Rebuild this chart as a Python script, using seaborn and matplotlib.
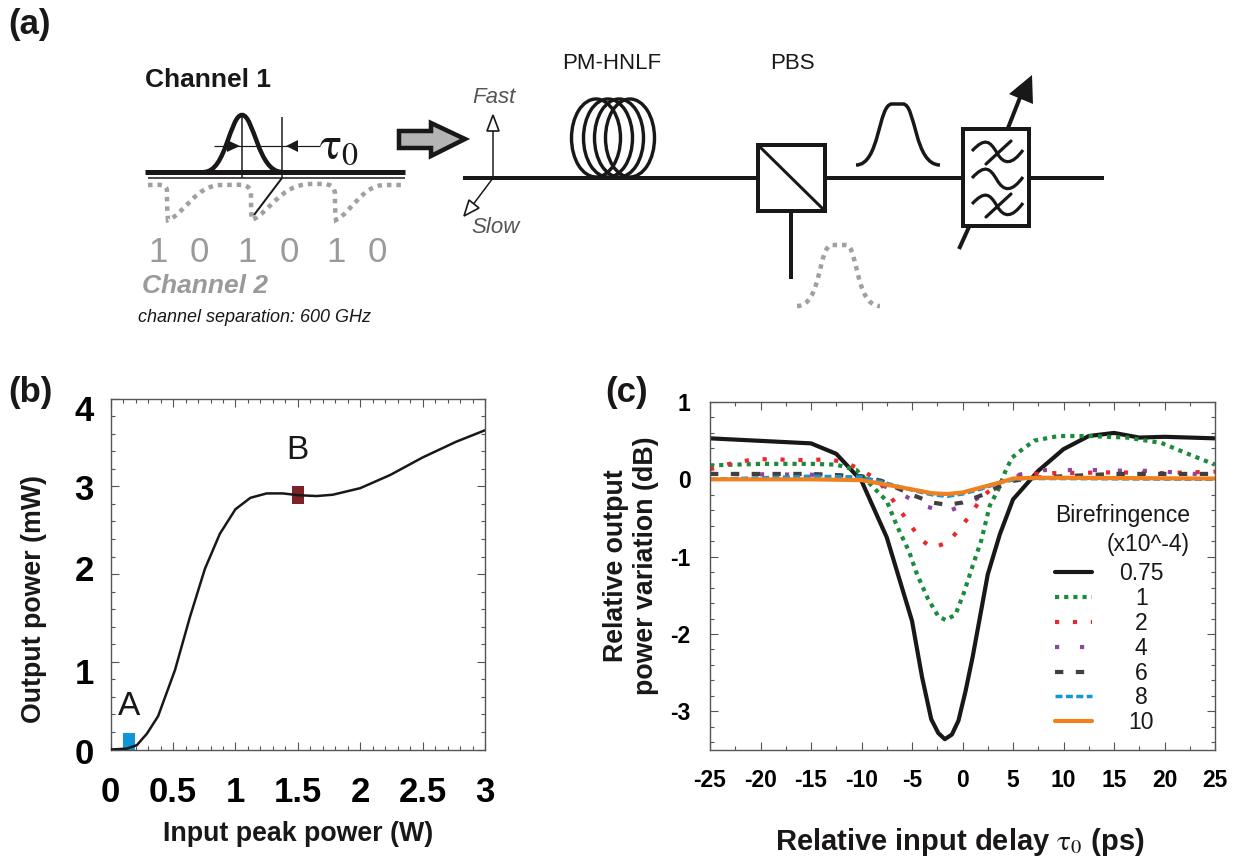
import matplotlib
matplotlib.use("Agg")
import matplotlib.pyplot as plt
import seaborn as sns
from matplotlib.path import Path
from matplotlib.patches import PathPatch, Rectangle, Ellipse, Polygon
from matplotlib.ticker import MultipleLocator
from matplotlib.transforms import Affine2D

# ---------- data ----------
power_in = [0, .13, .21, .29, .38, .515, .635, .755, .875, 1.0, 1.12, 1.25, 1.38, 1.5, 1.65, 1.78, 2.0, 2.24, 2.5, 2.77, 3.0]
power_out = [0, .01, .05, .18, .38, .905, 1.51, 2.06, 2.46, 2.74, 2.87, 2.92, 2.92, 2.90, 2.89, 2.905, 2.98, 3.13, 3.33, 3.51, 3.64]
mark_x = [0.15, 1.5]
mark_y = [0.08, 2.9]
mark_colors = ["#0f95d8", "#7d2226"]
mark_labels = ["A", "B"]

b075_x = [-25, -15, -12.5, -10, -7.5, -5, -4, -3.1, -2.4, -1.75, -1.05, -.4, .3, 1, 1.66, 2.5, 3.7, 5, 7.5, 10, 12.5, 15, 17.5, 20, 25]
b075_y = [.53, .465, .33, -.02, -.75, -1.83, -2.56, -3.1, -3.28, -3.36, -3.3, -3.12, -2.74, -2.3, -1.83, -1.23, -.71, -.26, .11, .39, .56, .6, .54, .55, .53]
b1_x = [-25, -20, -15, -12.5, -10.5, -8.7, -7.5, -6.5, -5.3, -4.5, -3.4, -2.4, -1.67, -.7, .13, 1, 1.84, 2.7, 3.55, 4.2, 4.9, 5.75, 7.1, 9.5, 12.5, 16.3, 19.7, 22.5, 25]
b1_y = [.18, .2, .2, .19, .12, -.12, -.28, -.6, -.93, -1.23, -1.55, -1.77, -1.82, -1.75, -1.47, -1.12, -.8, -.34, -.13, .09, .28, .37, .5, .56, .56, .54, .47, .32, .19]
b2_x = [-25, -22.5, -20.5, -18.7, -16.8, -15, -13.3, -11.6, -10, -8.4, -7.3, -6.3, -5.2, -4.2, -3, -1.4, -.1, 1, 1.9, 3.2, 4.5, 7, 9, 15, 20, 25]
b2_y = [.13, .22, .26, .26, .25, .25, .26, .22, .12, -.01, -.19, -.38, -.58, -.77, -.89, -.81, -.61, -.42, -.23, -.09, .02, .07, .08, .09, .08, .1]
b4_x = [-25, -15, -10, -6.3, -4, -1.5, 1, 3.5, 5.6, 8.1, 10.9, 13.4, 16.1, 18.9, 22, 25]
b4_y = [.07, .06, .04, -.17, -.34, -.42, -.28, -.1, .06, .12, .12, .12, .11, .11, .08, .05]
b6_x = [-25, -20, -15, -10, -8, -5, -3, -1.5, 0, 2, 3.5, 5, 7, 10, 15, 20, 25]
b6_y = [.07, .07, .07, .04, -.02, -.2, -.3, -.33, -.3, -.2, -.1, -.02, .02, .04, .07, .07, .07]
b8_x = [-25, -15, -10, -7.5, -5, -3, -1.5, 0, 2, 4, 6, 10, 25]
b8_y = [0, .04, .03, -.05, -.14, -.2, -.22, -.19, -.12, -.03, .01, .01, 0]
b10_x = [-25, -15, -10, -7.5, -5, -3, -1.5, 0, 2, 4, 5, 7, 10, 25]
b10_y = [0, 0, -.01, -.07, -.13, -.18, -.19, -.17, -.1, -.03, .01, .02, .02, .01]
series_labels = ["0.75", "1", "2", "4", "6", "8", "10"]
series_colors = ["#1a1717", "#1a8a3c", "#e8282c", "#8e44a0", "#404040", "#1296d8", "#f0811e"]
series_styles = ["-", (0, (1, 1.2)), (0, (1, 3.3)), (0, (1, 5)), (0, (2, 3)), (0, (2, 1)), "-"]

xticks_b = [0, .5, 1, 1.5, 2, 2.5, 3]
xticklabels_b = ["0", "0.5", "1", "1.5", "2", "2.5", "3"]
yticks_b = [0, 1, 2, 3, 4]
xticks_c = list(range(-25, 26, 5))
yticks_c = [-3, -2, -1, 0, 1]
bits = ["1", "0", "1", "0", "1", "0"]

# ---------- figure ----------
sns.set_theme(style="ticks")
plt.rcParams["font.family"] = ["Liberation Sans", "DejaVu Sans"]
plt.rcParams["mathtext.fontset"] = "stix"
plt.rcParams["axes.unicode_minus"] = False
W, H = 1239, 856
fig = plt.figure(figsize=(W / 100, H / 100), dpi=100)
ink = "#1a1717"
px = 0.72


def axes_px(l, t, r, b):
    return fig.add_axes([l / W, 1 - b / H, (r - l) / W, (b - t) / H])


sk = fig.add_axes([0, 0, 1, 1])
sk.set_xlim(0, W)
sk.set_ylim(H, 0)
sk.axis("off")


def line(xs, ys, w=4, c=ink, **k):
    k.setdefault("solid_capstyle", "butt")
    sk.plot(xs, ys, color=c, lw=w * px, **k)


def curve(verts, w=4, c=ink, **k):
    codes = [Path.MOVETO] + [Path.CURVE4] * (len(verts) - 1)
    sk.add_patch(PathPatch(Path(verts, codes), fill=False, ec=c, lw=w * px, capstyle="butt", **k))


def txt(x, y, s, size, **k):
    k.setdefault("ha", "center")
    k.setdefault("va", "center")
    k.setdefault("color", ink)
    sk.text(x, y, s, fontsize=size, **k)


for x, y, s in [(30, 24, "(a)"), (30, 392, "(b)"), (627, 392, "(c)")]:
    txt(x, y, s, 25, fontweight="bold")

# channel panel
txt(208, 80, "Channel 1", 19, fontweight="bold")
line([145, 405], [172, 172], 5)
line([148, 405], [178, 178], 1.5)
curve([(204, 172), (226, 172), (230, 115), (242, 115), (254, 115), (258, 172), (282, 172)], 4.5)
line([242, 242], [115, 178], 1.5)
line([282, 282], [117, 178], 1.5)
line([214, 320], [146, 146], 1.2)
sk.add_patch(Polygon([(240, 146), (227, 140), (227, 152)], fc=ink, ec="none", zorder=3))
sk.add_patch(Polygon([(286, 146), (298, 140), (298, 152)], fc=ink, ec="none", zorder=3))
txt(339, 147, "$\\mathrm{\\tau}_{0}$", 33)
line([282, 254], [178, 215], 2)

grey = "#a0a0a0"
dots = dict(ls=(0, (1, 1.1)))
curve([(148, 185), (160, 185), (167, 183), (167, 192), (167, 200), (167, 210), (168, 220),
       (185, 214), (195, 185), (222, 185), (240, 185), (251, 182), (251, 195),
       (251, 205), (251, 212), (252, 220), (270, 212), (280, 185), (310, 184),
       (325, 184), (335, 182), (335, 195), (335, 205), (335, 212), (336, 220),
       (352, 212), (362, 185), (385, 185), (392, 185), (398, 185), (404, 185)],
      4.5, grey, **dots)
for x, s in zip([158, 199, 247, 289, 336, 377], bits):
    txt(x, 252, s, 25, color="#9a9a9a")
txt(205, 286, "Channel 2", 19, fontweight="bold", fontstyle="italic", color="#9a9a9a")
txt(255, 317, "channel separation: 600 GHz", 13, fontstyle="italic")

# block arrow
sk.add_patch(Polygon([(399, 131), (431, 131), (431, 123), (465, 139), (431, 156), (431, 148), (399, 148)],
                     fc="#b4b4b4", ec=ink, lw=4.5 * px, joinstyle="miter"))

# main line and polarisation axes
line([463, 1104], [178, 178], 4)
txt(494, 97, "Fast", 16, fontstyle="italic", color="#555555")
txt(496, 227, "Slow", 16, fontstyle="italic", color="#555555")
line([493, 493], [178, 130], 1.5)
sk.add_patch(Polygon([(493, 115), (487, 131), (499, 131)], fc="white", ec=ink, lw=1.2, zorder=3))
line([493, 472], [178, 206], 1.5)
sk.add_patch(Polygon([(464, 216), (469, 200), (479, 208)], fc="white", ec=ink, lw=1.2, zorder=3))

# fibre coil
for cx in [596, 608, 619, 630]:
    sk.add_patch(Ellipse((cx, 138), 49, 78, fill=False, ec=ink, lw=3.4 * px))
txt(612, 63, "PM-HNLF", 16)
txt(792, 63, "PBS", 16)

# PBS
sk.add_patch(Rectangle((758, 145), 67, 66, fc="white", ec=ink, lw=4 * px, zorder=3))
sk.plot([760, 823], [147, 209], color=ink, lw=3 * px, zorder=4)
line([791, 791], [211, 279], 4)

# output pulses
curve([(856, 165), (880, 165), (878, 104), (892, 104), (896, 104), (899, 104), (903, 104),
       (916, 104), (914, 165), (940, 165)], 3.5)
curve([(797, 306), (822, 306), (818, 245), (832, 245), (836, 245), (842, 245), (846, 245),
       (858, 245), (855, 306), (880, 306)], 4.5, "#a0a0a0", ls=(0, (1, 1.1)))

# tunable filter
sk.add_patch(Rectangle((963, 129), 66, 97, fc="white", ec=ink, lw=4 * px, zorder=3))
line([959, 969], [249, 227], 4)
line([1008, 1021], [128, 95], 4)
sk.add_patch(Polygon([(1032, 75), (1009, 94), (1033, 104)], fc=ink, ec="none"))
line([1029, 1104], [178, 178], 4)
for yc, cut in [(153, True), (180, False), (206, True)]:
    sk.add_patch(PathPatch(Path([(972, yc - 2), (985, yc - 16), (990, yc - 12), (997, yc),
                                 (1004, yc + 12), (1012, yc + 12), (1023, yc - 3)],
                                [Path.MOVETO] + [Path.CURVE4] * 6),
                           fill=False, ec=ink, lw=3.2 * px, zorder=4))
    if cut:
        sk.plot([986, 1011], [yc + 11, yc - 12], color=ink, lw=3.2 * px, zorder=4)


def style_axes(ax, xmaj, xmin, ymaj, ymin):
    for s in ax.spines.values():
        s.set_linewidth(1.0)
        s.set_color("#555555")
    ax.xaxis.set_major_locator(MultipleLocator(xmaj))
    ax.xaxis.set_minor_locator(MultipleLocator(xmin))
    ax.yaxis.set_major_locator(MultipleLocator(ymaj))
    ax.yaxis.set_minor_locator(MultipleLocator(ymin))
    ax.tick_params(which="major", direction="in", top=True, right=True, length=6, width=.8, color="#555555")
    ax.tick_params(which="minor", direction="in", top=True, right=True, length=3, width=.8, color="#555555")
    ax.set_facecolor("none")


# ---------- panel b ----------
axb = axes_px(110.7, 398.7, 485, 749.5)
sns.lineplot(x=power_in, y=power_out, ax=axb, color=ink, lw=1.8, errorbar=None)
axb.set_xlim(0, 3)
axb.set_ylim(0, 4)
style_axes(axb, .5, .1, 1, .2)
axb.set_xticks(xticks_b, xticklabels_b)
axb.set_yticks(yticks_b)
axb.tick_params(axis="both", which="major", labelsize=25)
axb.tick_params(axis="x", which="major", pad=19)
axb.tick_params(axis="y", which="major", pad=12)
for t in axb.get_xticklabels() + axb.get_yticklabels():
    t.set_fontweight("bold")
    t.set_color("black")
# the y tick labels sit a little off their ticks in the reference
for t, dy in zip(axb.get_yticklabels(), [2, 9, -6, 1, 9]):
    t.set_transform(t.get_transform() + Affine2D().translate(0, -dy))
axb.set_xlabel("Input peak power (W)", fontsize=19.3, fontweight="bold", color=ink)
axb.set_ylabel("Output power (mW)", fontsize=19.3, fontweight="bold", color=ink)
axb.xaxis.set_label_coords(.5, -.204)
axb.yaxis.set_label_coords(-.17, .429)
rect = Path([(-.58, -1), (.58, -1), (.58, 1), (-.58, 1), (-.58, -1)], closed=True)
for x, y, c, s, off in zip(mark_x, mark_y, mark_colors, mark_labels, [26, 32]):
    axb.scatter([x], [y], marker=rect, s=187, color=c, linewidths=0, clip_on=False, zorder=1)
    axb.annotate(s, (x, y), xytext=(0, off), textcoords="offset points", ha="center", va="center",
                 fontsize=24, color=ink)
axb.lines[0].set_zorder(3)

# ---------- panel c ----------
axc = axes_px(710, 402, 1215, 750)
series = [(b075_x, b075_y, 3.0), (b1_x, b1_y, 3.0), (b2_x, b2_y, 3.0), (b4_x, b4_y, 3.0),
          (b6_x, b6_y, 3.0), (b8_x, b8_y, 2.5), (b10_x, b10_y, 3.0)]
for (xs, ys, lw), lab, col, st in zip(series, series_labels, series_colors, series_styles):
    sns.lineplot(x=xs, y=ys, ax=axc, color=col, lw=lw, linestyle=st, label=lab, errorbar=None)
axc.set_xlim(-25, 25)
axc.set_ylim(-3.5, 1)
style_axes(axc, 5, 2.5, 1, .2)
axc.set_xticks(xticks_c)
axc.set_yticks(yticks_c)
axc.tick_params(axis="both", which="major", labelsize=16.5, labelcolor="black")
axc.tick_params(axis="x", which="major", pad=14)
axc.tick_params(axis="y", which="major", pad=14)
for t in axc.get_xticklabels() + axc.get_yticklabels():
    t.set_fontweight("bold")
axc.set_xlabel("Relative input delay $\\mathrm{\\tau}_{0}$ (ps)", fontsize=21, fontweight="bold", color=ink)
axc.set_ylabel("Relative output\npower variation (dB)", fontsize=19.3, fontweight="bold", color=ink)
axc.xaxis.set_label_coords(.495, -.218)
axc.yaxis.set_label_coords(-.101, .529)

leg = axc.legend(loc="upper left", bbox_to_anchor=(1055 / W, 1 - 504 / H), bbox_transform=fig.transFigure,
                 frameon=False, fontsize=16.5, title="Birefringence\n(x10^-4)", title_fontsize=16.5,
                 alignment="left", borderpad=0, borderaxespad=0, handlelength=1.62, handletextpad=0.35,
                 labelspacing=0.08)
leg.get_title().set_multialignment("right")
leg.get_title().set_linespacing(1.35)
leg.get_title().set_color(ink)
leg._legend_box.sep += 3
renderer = fig.canvas.get_renderer()
for t in leg.get_texts():
    t.set_color(ink)
    # labels are centred in their column, as in the reference
    t.set_position((41 - t.get_window_extent(renderer).width / 2, 0))

fig.savefig("out.png", dpi=100)
